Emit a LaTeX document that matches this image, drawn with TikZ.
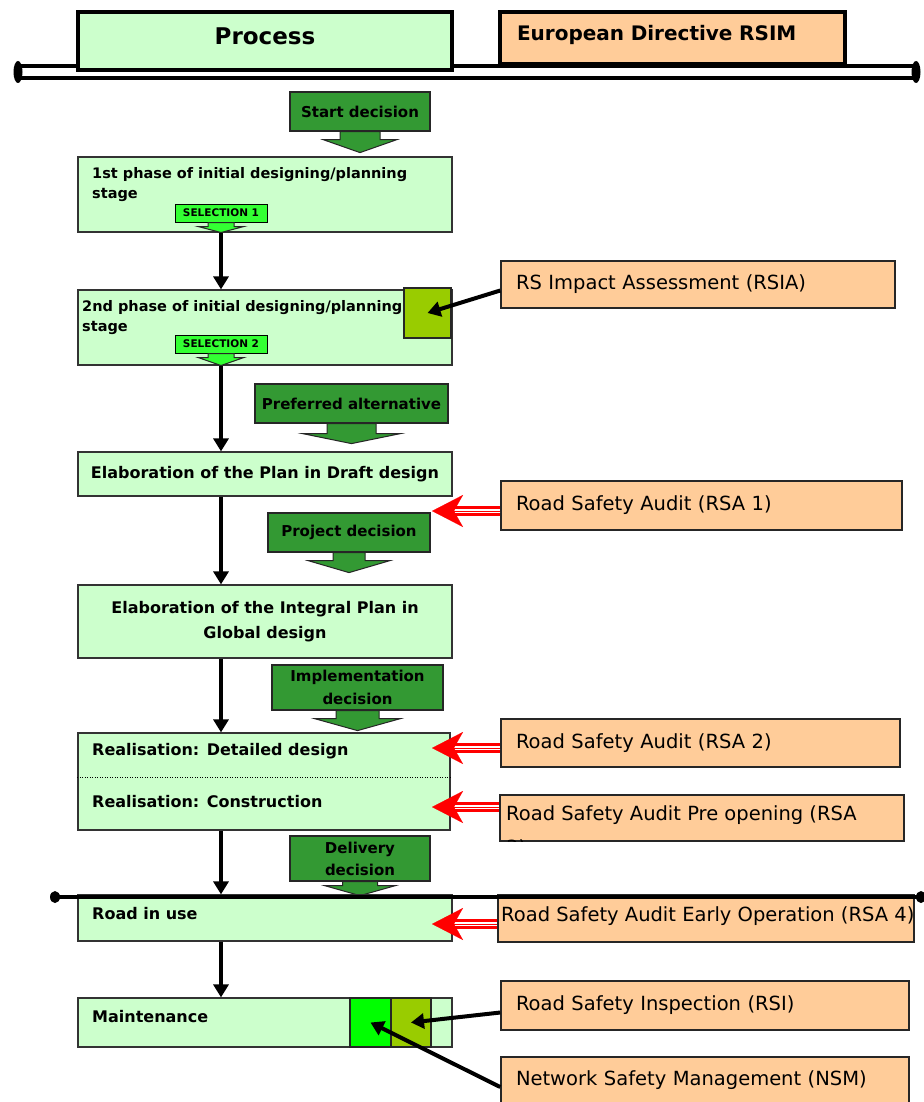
\documentclass[tikz,border=0pt]{standalone}
\usepackage{fontspec}
\setmainfont{DejaVu Sans}
\usetikzlibrary{arrows.meta}

\definecolor{procgreen}{HTML}{CCFFCC}
\definecolor{rsimorange}{HTML}{FFCC99}
\definecolor{decgreen}{HTML}{339933}
\definecolor{selgreen}{HTML}{33FF33}
\definecolor{olivegreen}{HTML}{99CC00}
\definecolor{brightgreen}{HTML}{00FF00}
\definecolor{auditred}{HTML}{FF0000}

% block arrow under a decision box: node, shaft half width, head half width, shaft length, head length
\newcommand{\decarrow}[6][]{%
  \filldraw[decarrowstyle,#1] (#2.south) ++(-#3,0) -- ++(0,#5) -- ++(#3-#4,0)
    -- ++(#4,#6) -- ++(#4,-#6) -- ++(#3-#4,0) -- ++(0,-#5) -- cycle;}

\begin{document}
\begin{tikzpicture}[
x=1pt, y=-1pt,
header/.style={
draw=black,
line width=3.5pt,
inner sep=0pt
},
proc/.style={
draw=black!80,
line width=1.2pt,
fill=procgreen,
inner sep=0pt,
font=\fontsize{16}{20}\selectfont\bfseries
},
proctext/.style={
inner sep=0pt,
align=left,
font=\fontsize{16}{20}\selectfont\bfseries
},
decision/.style={
draw=black!85,
line width=1.2pt,
fill=decgreen,
inner sep=0pt,
align=center,
font=\fontsize{15}{22}\selectfont\bfseries
},
decarrowstyle/.style={draw=black!85, line width=1pt, fill=decgreen},
selection/.style={
draw=black,
line width=1pt,
fill=selgreen,
inner sep=0pt,
minimum width=92pt,
minimum height=18pt,
font=\fontsize{10.5}{12}\selectfont\bfseries
},
rsim/.style={
draw=black!85,
line width=1.5pt,
fill=rsimorange,
inner xsep=15pt,
inner ysep=0pt,
align=left,
font=\fontsize{19.5}{24}\selectfont
},
rsimtext/.style={inner sep=0pt, align=left, font=\fontsize{19.5}{28}\selectfont},
slot/.style={draw=black!85, line width=1.2pt, inner sep=0pt},
sepline/.style={line width=1pt, dash pattern=on 1pt off 1.5pt},
conn/.style={line width=4pt, -{Triangle[length=13pt,width=15pt]}},
audit/.style={auditred, line width=0.1pt, -{Stealth[length=31pt,width=32pt,inset=9pt]},
  preaction={draw, -, auditred, line width=3.4pt, double=white, double distance=3.4pt, shorten >=20pt}}
]

\fill[white] (0,0) rectangle (923,1102);
\useasboundingbox (0,0) rectangle (923,1102);

% header rail
\coordinate (hl) at (18,72);
\coordinate (hr) at (916,72);
\draw[line width=3.5pt] ([yshift=6pt]hl) -- ([yshift=6pt]hr);
\draw[line width=4.5pt] ([yshift=-6pt]hl) -- ([yshift=-6pt]hr);
\fill (hl) ellipse (4.5 and 11);
\fill (hr) ellipse (4.5 and 11);

\node[header, fill=procgreen, minimum width=374pt, minimum height=58pt,
  text height=17pt, text depth=10pt, font=\fontsize{23}{28}\selectfont\bfseries] (process) at (265,41) {Process};
\node[header, fill=rsimorange, minimum width=345pt, minimum height=52pt, inner xsep=17pt,
  text width=311pt, align=left, text height=15pt, text depth=9pt,
  font=\fontsize{20}{24}\selectfont\bfseries] (directive) at (672.5,38) {European Directive RSIM};

% process column
\node[decision, minimum width=140pt, minimum height=39pt] (start) at (360,111.5) {Start decision};
\decarrow{start}{20}{37}{8}{13}

\node[proc, minimum width=374pt, minimum height=75pt] (ph1) at (265,194.5) {};
\node[proctext, anchor=west, font=\fontsize{14.5}{20}\selectfont\bfseries] (ph1txt) at (92,185)
{1st phase of initial designing/planning\\stage};
\node[selection] (sel1) at (221,213) {SELECTION 1};
\decarrow[fill=selgreen]{sel1}{13}{23}{4}{6}

\node[proc, minimum width=374pt, minimum height=75pt] (ph2) at (265,327.5) {};
\node[proctext, anchor=west, font=\fontsize{14.5}{20}\selectfont\bfseries] (ph2txt) at (82,318)
{2nd phase of initial designing/planning\\stage};
\node[slot, fill=olivegreen, minimum width=47pt, minimum height=50pt] (rsiasq) at (427.5,313) {};
\node[selection] (sel2) at (221,344) {SELECTION 2};
\decarrow[fill=selgreen]{sel2}{13}{23}{4}{8}

\node[decision, minimum width=193pt, minimum height=39pt] (pref) at (351.5,403.5) {Preferred alternative};
\decarrow{pref}{24.5}{49}{10}{10}

\node[proc, minimum width=374pt, minimum height=44pt] (draft) at (265,474)
{Elaboration of the Plan in Draft design};

\node[decision, minimum width=162pt, minimum height=39pt] (project) at (349,532.5) {Project decision};
\decarrow{project}{16}{41}{8}{12}

\node[proc, minimum width=374pt, minimum height=73pt, align=center,
  font=\fontsize{16}{25}\selectfont\bfseries] (integral) at (265,621.5)
{Elaboration of the Integral Plan in\\Global design};

\node[decision, minimum width=171pt, minimum height=45pt, font=\fontsize{15}{23}\selectfont\bfseries]
  (impl) at (357.5,687.5) {Implementation\\decision};
\decarrow{impl}{21.5}{43}{8}{12}

\node[proc, minimum width=372pt, minimum height=97pt] (real) at (264,781.5) {};
\node[proctext, anchor=west] (detail) at (92,751) {Realisation: Detailed design};
\node[proctext, anchor=west] (constr) at (92,802) {Realisation: Construction};
\draw[sepline] ([yshift=4.5pt]real.west) -- ([yshift=4.5pt]real.east);

\node[decision, minimum width=140pt, minimum height=45pt] (deliv) at (360,858.5) {Delivery\\decision};
\decarrow{deliv}{17.5}{35.5}{4}{10}

\node[proc, minimum width=374pt, minimum height=46pt] (inuse) at (265,918) {};
\node[proctext, anchor=west] (inusetxt) at (92,914) {Road in use};

\node[proc, minimum width=374pt, minimum height=49pt] (maint) at (265,1022.5) {};
\node[proctext, anchor=west] (mainttxt) at (92,1017) {Maintenance};
\node[slot, fill=brightgreen, minimum width=41pt, minimum height=49pt] (nsmsq) at (370.5,1022.5) {};
\node[slot, fill=olivegreen, minimum width=40pt, minimum height=49pt] (rsisq) at (411,1022.5) {};

% directive column
\node[rsim, minimum height=47pt, text width=364pt] (rsia) at (698,284.5) {RS Impact Assessment (RSIA)};
\node[rsim, minimum height=49pt, text width=371pt] (rsa1) at (701.5,505.5) {Road Safety Audit (RSA 1)};
\node[rsim, minimum height=48pt, text width=369pt] (rsa2) at (700.5,743) {Road Safety Audit (RSA 2)};
\node[rsim, minimum width=404pt, minimum height=46pt] (rsa3) at (702,818) {};
\begin{scope}
\clip (rsa3.north west) rectangle (rsa3.south east);
\node[rsimtext, anchor=west, font=\fontsize{19.5}{34}\selectfont] (rsa3txt) at (506,831)
{Road Safety Audit Pre opening (RSA\\3)};
\end{scope}
\node[rsim, minimum width=416pt, minimum height=47pt] (rsa4) at (706,918.5) {};
\node[rsimtext, anchor=west] (rsa4txt) at (501,916) {Road Safety Audit Early Operation (RSA 4)};
\node[rsim, minimum height=49pt, text width=378pt] (rsi) at (705,1005.5) {Road Safety Inspection (RSI)};
\node[rsim, minimum height=46pt, text width=378pt] (nsm) at (705,1080) {Network Safety Management (NSM)};

% road in use rail
\coordinate (ul) at (55,897);
\coordinate (ur) at (921,897);
\draw[line width=4pt] (ul) -- (ur);
\fill (ul) ellipse (5 and 6);
\fill (ur) ellipse (5 and 6);

% arrows
\draw[conn] (sel1.south |- ph1.south) -- (sel1.south |- ph2.north);
\draw[conn] (sel2.south |- ph2.south) -- (sel2.south |- draft.north);
\draw[conn] (sel2.south |- draft.south) -- (sel2.south |- integral.north);
\draw[conn] (sel2.south |- integral.south) -- (sel2.south |- real.north);
\draw[conn] (sel2.south |- real.south) -- (sel2.south |- inuse.north);
\draw[conn] (sel2.south |- inuse.south) -- (sel2.south |- maint.north);

\draw[conn] ([yshift=-6pt]rsia.west) -- (rsiasq.center);
\draw[conn] ([yshift=-7pt]rsi.west) -- (rsisq.center);
\draw[conn] ([yshift=-7pt]nsm.west) -- (nsmsq.center);

\coordinate (tip1) at (432,511);
\coordinate (tip2) at (432,748);
\coordinate (tip3) at (432,807);
\coordinate (tip4) at (432,924);
\draw[audit] (rsa1.west |- tip1) -- (tip1);
\draw[audit] (rsa2.west |- tip2) -- (tip2);
\draw[audit] (rsa3.west |- tip3) -- (tip3);
\draw[audit] (rsa4.west |- tip4) -- (tip4);

\end{tikzpicture}
\end{document}
